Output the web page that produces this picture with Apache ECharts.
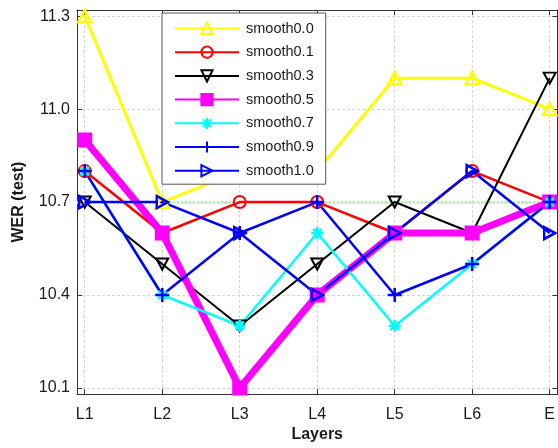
<!DOCTYPE html>
<html>
<head>
<meta charset="utf-8">
<script src="https://cdn.jsdelivr.net/npm/echarts@6/dist/echarts.min.js"></script>
<style>
html,body{margin:0;padding:0;background:#fff;}
#chart{width:558px;height:448px;}
</style>
</head>
<body>
<div id="chart"></div>
<script>
// ---- data ----
const categories = ['L1', 'L2', 'L3', 'L4', 'L5', 'L6', 'E'];
const seriesNames = ['smooth0.0', 'smooth0.1', 'smooth0.3', 'smooth0.5', 'smooth0.7', 'smooth0.9', 'smooth1.0'];
const smooth00 = [11.3, 10.7, 10.8, 10.8, 11.1, 11.1, 11.0];
const smooth01 = [10.8, 10.6, 10.7, 10.7, 10.6, 10.8, 10.7];
const smooth03 = [10.7, 10.5, 10.3, 10.5, 10.7, 10.6, 11.1];
const smooth05 = [10.9, 10.6, 10.1, 10.4, 10.6, 10.6, 10.7];
const smooth07 = [10.8, 10.4, 10.3, 10.6, 10.3, 10.5, 10.7];
const smooth09 = [10.8, 10.4, 10.6, 10.7, 10.4, 10.5, 10.7];
const smooth10 = [10.7, 10.7, 10.6, 10.4, 10.6, 10.8, 10.6];
const yTicks = [10.1, 10.4, 10.7, 11.0, 11.3];
const baselineValue = 10.7;

// ---- chart ----
const xPos = categories.map((c, i) => i + 1);
const toPairs = arr => arr.map((v, i) => [xPos[i], v]);
const FONT = 'Liberation Sans, Arial, Helvetica, sans-serif';
const TXT = '#1a1a1a';

const plusPath = 'path://M0,-1L0,1M-1,0L1,0';
const starPath = 'path://M0,-1L0,1M-1,0L1,0M-0.7,-0.7L0.7,0.7M-0.7,0.7L0.7,-0.7';

function mk(name, data, color, opts) {
  return Object.assign({
    name: name,
    type: 'line',
    data: toPairs(data),
    showSymbol: true,
    showAllSymbol: true,
    clip: false,
    lineStyle: { color: color, width: opts.lw },
    itemStyle: { color: opts.fill || 'rgba(0,0,0,0)', borderColor: color, borderWidth: opts.bw || 2 },
    symbol: opts.symbol,
    symbolSize: opts.size,
    symbolRotate: opts.rot || 0,
    emphasis: { disabled: true },
    animation: false
  }, opts.extra || {});
}

const series = [
  mk(seriesNames[0], smooth00, '#ffff00', { lw: 3, symbol: 'triangle', size: [13, 12], bw: 2.5,
    extra: { markLine: { silent: true, z: 1, symbol: 'none', animation: false,
      label: { show: false },
      lineStyle: { color: '#a8f0a8', type: [2, 2], width: 2.5 },
      data: [{ yAxis: baselineValue }] } } }),
  mk(seriesNames[1], smooth01, '#ff0000', { lw: 2.5, symbol: 'circle', size: 12, bw: 2 }),
  mk(seriesNames[2], smooth03, '#000000', { lw: 2, symbol: 'triangle', size: [12, 11], rot: 180, bw: 2 }),
  mk(seriesNames[3], smooth05, '#ff00ff', { lw: 7, symbol: 'rect', size: 13, fill: '#ff00ff', bw: 2 }),
  mk(seriesNames[4], smooth07, '#00ffff', { lw: 2.5, symbol: starPath, size: 12, bw: 2.5 }),
  mk(seriesNames[5], smooth09, '#0000ff', { lw: 2.5, symbol: plusPath, size: 14, bw: 2.5 }),
  mk(seriesNames[6], smooth10, '#0000ff', { lw: 2.5, symbol: 'triangle', size: [12, 11], rot: -90, bw: 2.5 })
];

const xCommon = {
  type: 'value', min: 0.9, max: 7.1,
  axisLine: { show: true, onZero: false, lineStyle: { color: '#333', width: 1 } },
  axisTick: { show: true, inside: true, length: 5, customValues: xPos, lineStyle: { color: '#333' } }
};
const yCommon = {
  type: 'value', min: 10.08, max: 11.32,
  axisLine: { show: true, onZero: false, lineStyle: { color: '#333', width: 1 } },
  axisTick: { show: true, inside: true, length: 5, customValues: yTicks, lineStyle: { color: '#333' } }
};

const option = {
  backgroundColor: '#ffffff',
  animation: false,
  grid: { left: 77, top: 10, width: 482, height: 390, containLabel: false },
  xAxis: [
    Object.assign({}, xCommon, {
      position: 'bottom',
      axisLabel: { customValues: xPos, formatter: v => categories[Math.round(v) - 1] || '',
        margin: 12, fontSize: 16, fontFamily: FONT, color: TXT },
      splitLine: { show: true, lineStyle: { color: '#d6d6d6', type: [3, 2], width: 1 } },
      name: 'Layers', nameLocation: 'middle', nameGap: 32,
      nameTextStyle: { fontSize: 16, fontWeight: 'bold', fontFamily: FONT, color: TXT }
    }),
    Object.assign({}, xCommon, {
      position: 'top',
      axisLabel: { show: false },
      splitLine: { show: false }
    })
  ],
  yAxis: [
    Object.assign({}, yCommon, {
      position: 'left',
      axisLabel: { customValues: yTicks, formatter: v => v.toFixed(1),
        margin: 7, fontSize: 16, fontFamily: FONT, color: TXT },
      splitLine: { show: true, lineStyle: { color: '#d6d6d6', type: [3, 2], width: 1 } },
      name: 'WER (test)', nameLocation: 'middle', nameGap: 50, nameRotate: 90,
      nameTextStyle: { fontSize: 16, fontWeight: 'bold', fontFamily: FONT, color: TXT }
    }),
    Object.assign({}, yCommon, {
      position: 'right',
      axisLabel: { show: false },
      splitLine: { show: false }
    })
  ],
  legend: {
    data: seriesNames,
    orient: 'vertical',
    left: 162, top: 13,
    backgroundColor: '#ffffff',
    borderColor: '#555',
    borderWidth: 1,
    padding: [8, 12, 6, 12],
    itemWidth: 64,
    itemHeight: 14,
    itemGap: 8.7,
    selectedMode: false,
    textStyle: { fontSize: 14.5, fontFamily: FONT, color: TXT, padding: [0, 0, 0, 2] }
  },
  series: series
};

const chart = echarts.init(document.getElementById('chart'), null, { renderer: 'canvas' });
chart.setOption(option);
</script>
</body>
</html>
